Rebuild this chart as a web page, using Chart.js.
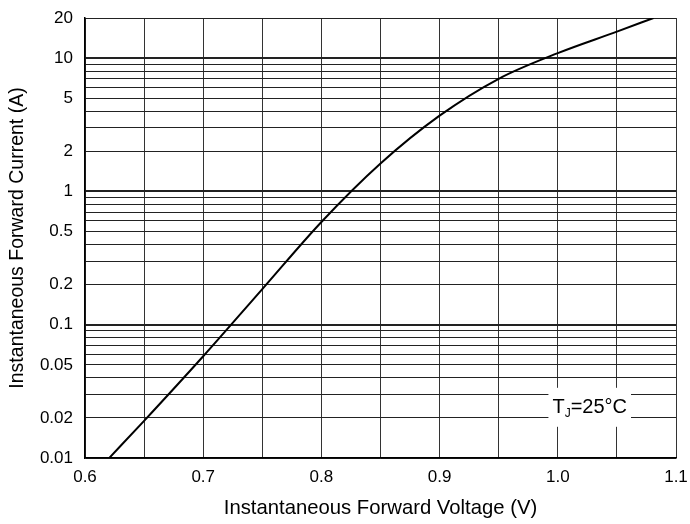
<!DOCTYPE html>
<html>
<head>
<meta charset="utf-8">
<script src="https://cdn.jsdelivr.net/npm/chart.js@4"></script>
<style>
  body { margin: 0; background: #fff; }
  #wrap { width: 690px; height: 524px; }
</style>
</head>
<body>
<div id="wrap"><canvas id="graphic" width="690" height="524"></canvas></div>
<script>
// forward voltage (V) and current (A)
const voltage = [0.62, 0.65, 0.70, 0.75, 0.80, 0.85, 0.90, 0.95, 1.00, 1.05, 1.081];
const current = [0.0099, 0.019, 0.058, 0.185, 0.59, 1.62, 3.7, 7.0, 10.9, 15.8, 20];

const yGrid = [0.01, 0.02, 0.03, 0.04, 0.05, 0.06, 0.07, 0.08, 0.09,
  0.1, 0.2, 0.3, 0.4, 0.5, 0.6, 0.7, 0.8, 0.9,
  1, 2, 3, 4, 5, 6, 7, 8, 9, 10, 20];
const yLabels = ["0.01", "0.02", "0.05", "0.1", "0.2", "0.5", "1", "2", "5", "10", "20"];
const xLabels = ["0.6", "0.7", "0.8", "0.9", "1.0", "1.1"];

const font = "'Liberation Sans', Arial, sans-serif";
const fmt = (v) => String(parseFloat(v.toPrecision(3)));

const noteLabel = {
  id: "noteLabel",
  afterDatasetsDraw(chart) {
    const { ctx, scales } = chart;
    const cx = scales.x.getPixelForValue(1.027);
    const cy = scales.y.getPixelForValue(0.0238);
    ctx.save();
    ctx.font = "20px " + font;
    const wT = ctx.measureText("T").width;
    ctx.font = "12px " + font;
    const wJ = ctx.measureText("J").width;
    ctx.font = "20px " + font;
    const wRest = ctx.measureText("=25°C").width;
    const w = wT + wJ + wRest;
    ctx.fillStyle = "#fff";
    ctx.fillRect(cx - w / 2 - 4, cy - 20, w + 8, 39);
    ctx.fillStyle = "#000";
    ctx.textBaseline = "middle";
    ctx.textAlign = "left";
    let x = cx - w / 2;
    ctx.fillText("T", x, cy);
    x += wT;
    ctx.font = "12px " + font;
    ctx.fillText("J", x, cy + 6);
    x += wJ;
    ctx.font = "20px " + font;
    ctx.fillText("=25°C", x, cy);
    ctx.restore();
  },
};

const config = {
  type: "line",
  data: {
    datasets: [
      {
        data: voltage.map((v, i) => ({ x: v, y: current[i] })),
        borderColor: "#000",
        borderWidth: 2,
        pointRadius: 0,
        fill: false,
        cubicInterpolationMode: "monotone",
      },
    ],
  },
  options: {
    responsive: false,
    animation: false,
    layout: { padding: { top: 18, right: 14, left: 0, bottom: 0 } },
    plugins: { legend: { display: false }, tooltip: { enabled: false } },
    scales: {
      x: {
        type: "linear",
        min: 0.6,
        max: 1.1,
        border: { color: "#000", width: 1.5 },
        grid: { color: "#333", lineWidth: 1, drawTicks: false },
        ticks: {
          stepSize: 0.05,
          padding: 9,
          color: "#000",
          font: { family: font, size: 17 },
          maxRotation: 0,
          autoSkip: false,
          callback: (v) => {
            const s = v.toFixed(2);
            return s.endsWith("0") && xLabels.includes(s.slice(0, -1)) ? s.slice(0, -1) : "";
          },
        },
        title: {
          display: true,
          text: "Instantaneous Forward Voltage (V)",
          color: "#000",
          font: { family: font, size: 20.3 },
          padding: { top: 10, bottom: 3 },
        },
        afterFit: (s) => {
          s.height = 66;
          s.paddingLeft = 0;
          s.paddingRight = 0;
        },
      },
      y: {
        type: "logarithmic",
        min: 0.01,
        max: 20,
        border: { color: "#000", width: 1.5 },
        afterBuildTicks: (s) => { s.ticks = yGrid.map((v) => ({ value: v })); },
        grid: {
          color: "#222",
          drawTicks: false,
          lineWidth: (c) => {
            const v = c.tick ? c.tick.value : 0;
            return v === 0.1 || v === 1 || v === 10 ? 2 : 1;
          },
        },
        ticks: {
          padding: 12,
          color: "#000",
          font: { family: font, size: 17 },
          autoSkip: false,
          callback: (v) => (yLabels.includes(fmt(v)) ? fmt(v) : ""),
        },
        title: {
          display: true,
          text: "Instantaneous Forward Current (A)",
          color: "#000",
          font: { family: font, size: 19.5 },
          padding: { top: 5.5, bottom: 4 },
        },
        afterFit: (s) => {
          s.width = 85;
          s.paddingTop = 0;
          s.paddingBottom = 0;
        },
      },
    },
  },
  plugins: [noteLabel],
};

const ctx = document.getElementById("graphic").getContext("2d");
const chartInstance = new Chart(ctx, config);
</script>
</body>
</html>
